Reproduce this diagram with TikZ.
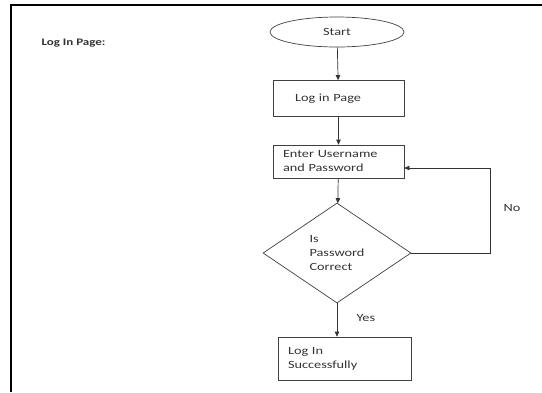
\documentclass[tikz,border=0pt]{standalone}
\usepackage{fontspec}
\setmainfont{Carlito}[FakeStretch=1.3]
\usepackage{tikz}
\usetikzlibrary{shapes.geometric,arrows.meta}

\tikzset{
    txt/.style={font=\fontsize{11}{14}\selectfont,text=black!80},
    box/.style={txt,draw=black!75,line width=0.7pt,rectangle,align=left,
        text width=111pt,inner xsep=10pt,minimum height=36pt},
    decision/.style={txt,draw=black!75,line width=0.7pt,diamond,aspect=1.5,
        inner sep=0pt,minimum width=148pt,minimum height=100pt,align=left},
    terminal/.style={txt,draw=black!75,line width=0.7pt,ellipse,
        minimum width=134pt,minimum height=30pt},
    arr/.style={draw=black!80,line width=0.7pt,-{Triangle[length=5pt,width=4.5pt]}}
}

\begin{document}
\begin{tikzpicture}[x=1pt,y=-1pt]
    \useasboundingbox (0,0) rectangle (542,392);
    % page frame
    \draw[line width=2.5pt,black] (11,392)--(11,5)--(542,5);
    \node[txt,font=\fontsize{10}{12}\selectfont\bfseries,anchor=west] (title) at (38,43) {Log In Page:};
        % flow
        \node[terminal] (start) at (337,32) {Start};
        \node[box,text width=87pt,inner xsep=22pt] (login) at (338.5,98.5) {Log in Page};
        \node[box,minimum height=33pt] (enter) at (338.5,161.5) {Enter Username\\and Password};
        \node[decision] (check) at (337,253) {Is\\Password\\Correct};
        \node[box,text width=113pt,minimum height=43pt] (done) at (344.5,358.5) {Log In\\Successfully};
        \coordinate (loop) at (490,253);
        \draw[arr] (start) -- (login);
        \draw[arr] (login) -- (enter);
        \draw[arr] (enter) -- (check);
        \draw[arr] (check.south) -- (check.south |- done.north);
        \draw[arr] (check.east) -- (loop) |- ([yshift=-6.5pt]enter.east);
        \node[txt,anchor=west] (no) at (500,208) {No};
        \node[txt,anchor=west] (yes) at (353,318) {Yes};
    \end{tikzpicture}
\end{document}
